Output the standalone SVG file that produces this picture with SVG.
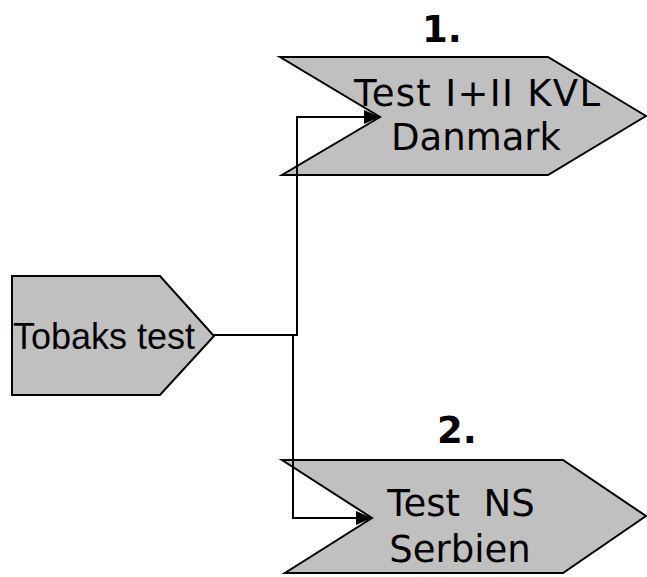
<svg xmlns="http://www.w3.org/2000/svg" width="647" height="577" viewBox="0 0 647 577">
<style>
.shape{fill:#c0c0c0;stroke:#000;stroke-width:2}
.lbl{font-family:"DejaVu Sans",Verdana,sans-serif;font-size:37px;fill:#000;text-anchor:middle}
.num{font-family:"DejaVu Sans",Verdana,sans-serif;font-size:37px;font-weight:bold;fill:#000;text-anchor:middle}
.lbl2{font-family:"Liberation Sans",Arial,sans-serif;font-size:36px;fill:#000}
.conn{fill:none;stroke:#000;stroke-width:2}
</style>
<defs>
<marker id="arr" markerWidth="16" markerHeight="14" refX="16" refY="7" orient="auto" markerUnits="userSpaceOnUse">
<path d="M0,0 L16,7 L0,14 Z" fill="#000"/>
</marker>
</defs>
<g id="node-tobaks">
<polygon class="shape" points="12,276 160,276 214,336 160,395 12,395"/>
<text class="lbl2" x="13" y="349">Tobaks test</text>
</g>
<g id="node-test1">
<polygon class="shape" points="280,57 548,57 646,116 548,175 282,175 380,117"/>
<text class="num" x="442" y="42">1.</text>
<text class="lbl" x="477" y="106" textLength="246" lengthAdjust="spacing">Test I+II KVL</text>
<text class="lbl" x="476" y="150">Danmark</text>
</g>
<g id="node-test2">
<polygon class="shape" points="282,460 563,460 646,516 563,573 285,573 372,518"/>
<text class="num" x="457" y="443">2.</text>
<text class="lbl" x="461" y="516" xml:space="preserve">Test  NS</text>
<text class="lbl" x="460" y="562">Serbien</text>
</g>
<g id="connectors">
<polyline class="conn" points="214,335 297,335 297,117 380,117" marker-end="url(#arr)"/>
<polyline class="conn" points="293,335 293,518 372,518" marker-end="url(#arr)"/>
</g>
</svg>
